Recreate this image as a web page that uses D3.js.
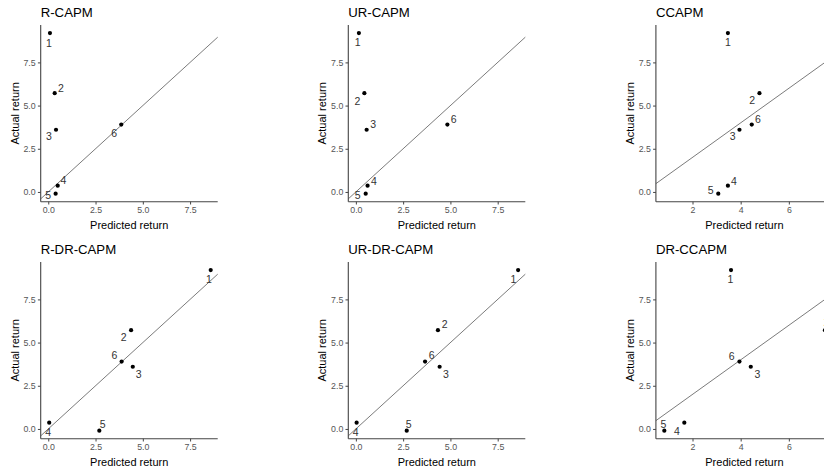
<!DOCTYPE html>
<html>
<head>
<meta charset="utf-8">
<script src="https://cdn.jsdelivr.net/npm/d3@7"></script>
<style>
  html, body { margin: 0; padding: 0; background: #fff; }
  svg { display: block; font-family: "Liberation Sans", Arial, sans-serif; }
</style>
</head>
<body>
<svg id="chart" width="824" height="474"></svg>
<script>
// Six models: predicted vs actual return for assets 1–6, 45° reference line.
const panelTitles = ["R-CAPM", "UR-CAPM", "CCAPM", "R-DR-CAPM", "UR-DR-CAPM", "DR-CCAPM"];
const assets = ["1", "2", "3", "4", "5", "6"];
const actualReturn = [9.2, 5.72, 3.6, 0.36, -0.1, 3.9];

const predRCAPM    = [0.09, 0.34, 0.41, 0.50, 0.39, 3.86];
const predURCAPM   = [0.16, 0.45, 0.57, 0.62, 0.52, 4.84];
const predCCAPM    = [3.47, 4.78, 3.95, 3.47, 3.07, 4.46];
const predRDRCAPM  = [8.59, 4.38, 4.47, 0.05, 2.70, 3.88];
const predURDRCAPM = [8.58, 4.34, 4.43, 0.04, 2.69, 3.66];
const predDRCCAPM  = [3.60, 7.50, 4.42, 1.66, 0.83, 3.95];

const predicted = [predRCAPM, predURCAPM, predCCAPM, predRDRCAPM, predURDRCAPM, predDRCCAPM];

// Axis ticks
const xTicksBeta = [0, 2.5, 5, 7.5];
const xTicksCons = [2, 4, 6];
const yTicks = [0, 2.5, 5, 7.5];

// Scale limits (beta models share one x scale, consumption models another)
const xDomainBeta = [-0.40, 8.96];
const xDomainCons = [0.48, 7.83];
const yDomain = [-0.565, 9.665];

// Repelled label offsets (px, label centre relative to point)
const labelOffsets = [
  [[-1, 9.5], [6.3, -5.6], [-7, 6.7], [5.6, -6], [-7.4, 1], [-7, 8]],
  [[-1.3, 9.4], [-7, 7.4], [6.6, -5.6], [6.3, -4.3], [-8, 1], [6.4, -6]],
  [[0, 9.3], [-7.3, 7.3], [-6.7, 6.3], [6, -4.3], [-7.7, -3.3], [6.3, -6]],
  [[-1.7, 9.3], [-7.3, 7.3], [6, 7.3], [-1, 9], [3.3, -6.3], [-7.3, -6.3]],
  [[-4.7, 9.3], [6.7, -5.7], [6.3, 7], [-1, 9], [2, -6.3], [6.7, -6.7]],
  [[-0.7, 9.3], [1.5, -8], [6.7, 7], [-7.3, 8.3], [-1, -6.7], [-7.7, -6]]
];

// Layout
const colW = 307.6, rowH = 237;
const plotLeft = 40.7, plotTop = 25, plotW = 177, plotH = 176.7;

const svg = d3.select("#chart");
svg.append("rect").attr("width", 824).attr("height", 474).attr("fill", "#fff");

panelTitles.forEach((title, i) => {
  const col = i % 3, row = Math.floor(i / 3);
  const isCons = title.includes("CCAPM");
  const xDomain = isCons ? xDomainCons : xDomainBeta;
  const xTicks = isCons ? xTicksCons : xTicksBeta;

  const g = svg.append("g")
    .attr("transform", `translate(${col * colW + plotLeft},${row * rowH + plotTop})`);

  const x = d3.scaleLinear().domain(xDomain).range([0, plotW]);
  const y = d3.scaleLinear().domain(yDomain).range([plotH, 0]);

  const clipId = "clip" + i;
  g.append("clipPath").attr("id", clipId)
    .append("rect").attr("width", plotW).attr("height", plotH);

  const panel = g.append("g").attr("clip-path", `url(#${clipId})`);

  // 45-degree line y = x, clipped to the panel
  const lo = Math.min(xDomain[0], yDomain[0]);
  const hi = Math.max(xDomain[1], yDomain[1]);
  panel.append("line")
    .attr("x1", x(lo)).attr("y1", y(lo))
    .attr("x2", x(hi)).attr("y2", y(hi))
    .attr("stroke", "#222").attr("stroke-width", 0.6);

  const pts = assets.map((a, k) => ({ a, px: predicted[i][k], ay: actualReturn[k], off: labelOffsets[i][k] }));

  panel.selectAll("circle").data(pts).join("circle")
    .attr("cx", d => x(d.px)).attr("cy", d => y(d.ay))
    .attr("r", 2.1).attr("fill", "#000");

  panel.selectAll("text.lab").data(pts).join("text")
    .attr("class", "lab")
    .attr("x", d => x(d.px) + d.off[0])
    .attr("y", d => y(d.ay) + d.off[1])
    .attr("text-anchor", "middle")
    .attr("dominant-baseline", "central")
    .attr("font-size", "10.5px")
    .attr("fill", "#333")
    .text(d => d.a);

  // Axes
  const xAxis = d3.axisBottom(x).tickValues(xTicks)
    .tickFormat(isCons ? d3.format("d") : d3.format(".1f"))
    .tickSize(2.8).tickPadding(2.5);
  const yAxis = d3.axisLeft(y).tickValues(yTicks)
    .tickFormat(d3.format(".1f")).tickSize(2.8).tickPadding(2.2);

  const gx = g.append("g").attr("transform", `translate(0,${plotH})`).call(xAxis);
  const gy = g.append("g").call(yAxis);
  [gx, gy].forEach(ax => {
    ax.select(".domain").attr("stroke", "#444").attr("stroke-width", 1.1);
    ax.selectAll(".tick line").attr("stroke", "#444").attr("stroke-width", 1);
    ax.selectAll(".tick text").attr("fill", "#555").attr("font-size", "8.8px")
      .attr("font-family", "Liberation Sans, Arial, sans-serif");
  });
  // Axis lines without end caps, like a classic theme
  gx.select(".domain").attr("d", `M0,0H${plotW}`);
  gy.select(".domain").attr("d", `M0,0V${plotH}`);

  // Title
  g.append("text")
    .attr("x", 0).attr("y", -8.3)
    .attr("font-size", "13.2px").attr("fill", "#000")
    .text(title);

  // Axis titles
  g.append("text")
    .attr("x", plotW / 2).attr("y", plotH + 27.3)
    .attr("text-anchor", "middle").attr("font-size", "11px").attr("fill", "#000")
    .text("Predicted return");
  g.append("text")
    .attr("transform", `translate(-22.2,${plotH / 2}) rotate(-90)`)
    .attr("text-anchor", "middle").attr("font-size", "11px").attr("fill", "#000")
    .text("Actual return");
});
</script>
</body>
</html>
